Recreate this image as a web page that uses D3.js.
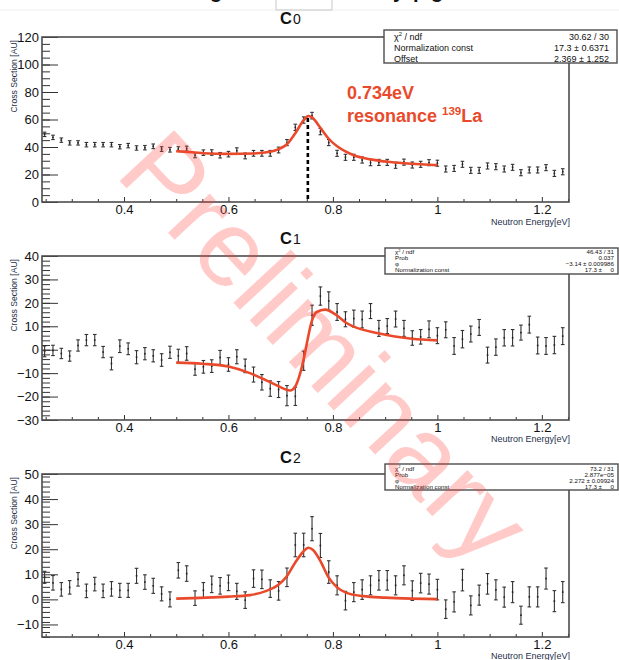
<!DOCTYPE html>
<html><head><meta charset="utf-8">
<script src="https://cdn.jsdelivr.net/npm/d3@7"></script>
<style>
body{margin:0;background:#fff}
svg{display:block;font-family:"Liberation Sans",Arial,Helvetica,sans-serif}
</style>
</head><body>
<svg id="chart" width="619" height="660"></svg>
<script>
// ---------------- data ----------------
const energies = [0.248,0.264,0.280,0.296,0.312,0.328,0.344,0.360,0.376,0.392,0.408,0.424,0.440,0.456,0.472,0.488,0.504,0.520,0.536,0.552,0.568,0.584,0.600,0.616,0.632,0.648,0.664,0.680,0.696,0.712,0.728,0.744,0.760,0.776,0.792,0.808,0.824,0.840,0.856,0.872,0.888,0.904,0.920,0.936,0.952,0.968,0.984,1.000,1.016,1.032,1.048,1.064,1.080,1.096,1.112,1.128,1.144,1.160,1.176,1.192,1.208,1.224,1.240];

const c0Values = [49.2,47,45,43,43,41.7,41.7,41.7,41.7,40.2,41,39.3,39.5,40.5,38.5,38,38.5,38.8,34,
  35.9,36,34,34.8,37.3,33.5,35.4,35.4,35.4,37.8,43.2,54.3,59.6,62.8,51.2,43.2,35.4,32.5,32.5,30.5,28.6,28.8,28.8,26.7,29,26.9,27.4,28.6,28.2,
  24,24.4,27.4,23,23,26.2,25.7,24,25.2,21.3,23.3,23.3,25,20.8,22];
const c0Errors = [1.6,1.6,1.6,1.6,1.6,1.6,1.6,1.6,1.6,1.6,1.6,1.6,1.6,1.7,1.7,1.7,1.7,1.8,1.8,
  2.0,2.0,2.0,2.0,2.1,2.1,2.1,2.1,2.1,2.1,2.2,2.3,2.3,2.4,2.3,2.2,2.2,2.2,2.2,2.2,2.2,2.2,2.2,2.2,2.2,2.2,2.2,2.2,2.2,
  2.2,2.2,2.2,2.2,2.2,2.2,2.2,2.2,2.2,2.2,2.2,2.2,2.2,2.2,2.2];

const c1Values = [-0.7,-0.3,-1.6,-2.7,1.8,4.1,4.1,-1.0,-5.9,1.5,0.4,-3.2,-1.7,-2.6,-4.4,-1.1,-2.6,-1.6,-8.3,-7.3,-7.0,-3.3,-6.3,-3.0,-6.9,
  -10.6,-13.9,-16.6,-17.0,-19.6,-19.9,-4.7,14.7,22.9,20.8,16.1,13.0,13.3,12.9,16.5,9.1,10.1,13.1,9.1,5.0,5.5,8.7,6.0,8.5,1.6,4.5,6.7,9.5,-2.3,1.1,5.1,5.1,7.3,10.7,1.8,1.6,2.0,5.8];
const c1Errors = [2.3,2.2,2.2,2.2,2.4,2.4,2.4,2.4,2.7,2.7,2.5,2.8,2.6,2.6,2.7,2.6,2.8,2.9,2.6,2.7,2.7,3.0,2.9,3.0,2.9,
  3.2,3.3,3.3,3.4,4.3,3.9,4.1,4.3,3.9,3.9,3.6,3.2,3.6,3.6,3.2,3.4,3.2,3.4,3.4,3.1,3.1,3.6,3.4,3.4,3.6,3.7,3.4,3.4,3.4,3.5,3.5,3.5,3.2,3.6,3.6,3.6,3.7,3.6];

const c2Values = [8.8,6.6,4.0,4.8,8.0,3.4,6.1,3.4,4.2,3.6,3.6,9.4,6.9,5.4,2.2,0,11.6,10.3,0.5,3.6,6.0,5.4,6.6,3.2,-0.3,
  8.3,8.0,4.3,3.4,8.8,21.7,21.7,28.2,21.5,10.9,5.6,-0.5,2.9,3.9,5.6,7.6,7.6,5.6,9.6,3.5,6.5,6.1,3.9,-3.9,-1.0,7.7,-2.4,1.7,6.2,3.8,0.9,2.9,-6.3,1.0,1.0,8.3,-0.7,2.9];
const c2Errors = [2.4,2.9,2.7,2.7,2.7,2.7,2.7,2.7,2.9,2.8,2.8,3.0,2.9,3.0,2.8,3.0,3.1,3.1,2.9,3.1,3.3,3.3,3.1,3.2,3.3,
  3.5,3.7,3.5,3.7,3.7,4.7,4.7,4.8,4.8,4.5,3.8,3.7,3.8,3.9,3.8,3.9,3.9,3.8,3.8,3.9,3.9,4.0,4.1,3.7,4.0,4.3,3.8,4.0,4.1,4.0,4.0,4.2,3.6,4.0,4.0,4.2,4.2,4.2];

const fit0Energy = [0.50,0.536,0.552,0.60,0.648,0.68,0.696,0.712,0.728,0.744,0.753,0.76,0.776,0.792,0.808,0.824,0.84,0.872,0.904,0.936,0.968,1.0];
const fit0Values = [37,36,35.5,35,35.3,36.5,38.5,42,50,59.5,62.5,61.5,54,46,40.5,36.8,34,31,29.3,28.2,27.4,26.8];
const fit1Energy = [0.50,0.55,0.60,0.641,0.67,0.695,0.718,0.727,0.737,0.745,0.750,0.759,0.769,0.785,0.807,0.826,0.887,0.951,1.0];
const fit1Values = [-5.5,-6.0,-7.2,-10.0,-12.8,-15.5,-17.4,-16.0,-10.3,-3.0,2.6,11.8,16.1,17.1,14.7,11.4,7.0,4.7,4.0];
const fit2Energy = [0.50,0.60,0.641,0.67,0.695,0.711,0.727,0.743,0.753,0.762,0.775,0.791,0.807,0.826,0.858,0.90,0.951,1.0];
const fit2Values = [0.3,1.1,1.7,3.2,5.7,9.0,14.4,19.0,20.6,19.7,15.7,9.0,5.0,2.6,1.3,0.7,0.3,0.1];

const resonanceEnergy = 0.752;

const xTicks = [0.4,0.6,0.8,1.0,1.2];
const xTickLabels = ["0.4","0.6","0.8","1","1.2"];
const xMinorTicks = [0.25,0.30,0.35,0.45,0.50,0.55,0.65,0.70,0.75,0.85,0.90,0.95,1.05,1.10,1.15,1.25];

const c0YTicks = [0,20,40,60,80,100,120];
const c0YTickLabels = ["0","20","40","60","80","100","120"];
const c1YTicks = [-30,-20,-10,0,10,20,30,40];
const c1YTickLabels = ["\u221230","\u221220","\u221210","0","10","20","30","40"];
const c2YTicks = [-10,0,10,20,30,40,50];
const c2YTickLabels = ["\u221210","0","10","20","30","40","50"];

const panelTitles = ["0","1","2"];
const stat0Names = ["chi2","Normalization const","Offset"];
const stat0Values = ["30.62 / 30","17.3 \u00b1 0.6371","2.369 \u00b1 1.252"];
const stat1Names = ["chi2","Prob","\u03c6","Normalization const"];
const stat1Values = ["46.43 / 31","0.037","\u22123.14 \u00b1 0.009986","17.3 \u00b1     0"];
const stat2Names = ["chi2","Prob","\u03c6","Normalization const"];
const stat2Values = ["73.2 / 31","2.877e\u221205","2.272 \u00b1 0.09924","17.3 \u00b1     0"];

// ---------------- drawing ----------------
const svg = d3.select("#chart");
const X0 = 42, X1 = 569;
const x = d3.scaleLinear().domain([0.243, 1.252]).range([X0, X1]);
const INK = "#333";
const FRAME = "#4d4d4d";
const RED = "#ea4a2c";
const NAVY = "#27304a";

// cut-off page title at very top (only descenders visible, as in the reference)
svg.append("line").attr("x1",0).attr("x2",619).attr("y1",10).attr("y2",10).attr("stroke","#f0f0f0");
svg.append("rect").attr("x",276).attr("y",-2).attr("width",56).attr("height",12).attr("fill","none").attr("stroke","#c8c8c8");
[["g",210],["y",393],["p",413],["g",431]].forEach(([t,px])=>{
  svg.append("text").attr("x",px).attr("y",-2).attr("font-size",20).attr("font-weight","bold").attr("fill","#111").text(t);
});

function drawPanel(p){
  const y = d3.scaleLinear().domain(p.yDomain).range([p.bottom, p.top]);
  const g = svg.append("g");

  const yMinor = d3.range(p.yDomain[0], p.yDomain[1]+1e-9, p.yMinorStep);
  g.append("g").attr("transform",`translate(${X0},0)`)
    .call(d3.axisLeft(y).tickValues(yMinor).tickSizeInner(-8).tickSizeOuter(0).tickFormat(""))
    .call(s=>s.select(".domain").remove())
    .call(s=>s.selectAll("line").attr("stroke",INK));
  g.append("g").attr("transform",`translate(${X0},0)`)
    .call(d3.axisLeft(y).tickValues(p.yTicks).tickSizeInner(-16).tickSizeOuter(0).tickPadding(3)
      .tickFormat((d,i)=>p.yTickLabels[i]))
    .call(s=>s.select(".domain").remove())
    .call(s=>s.selectAll("line").attr("stroke",INK))
    .call(s=>s.selectAll("text").attr("font-size",13).attr("fill","#111").attr("font-family","Liberation Sans, Arial, sans-serif"));
  g.append("g").attr("transform",`translate(0,${p.bottom})`)
    .call(d3.axisBottom(x).tickValues(xMinorTicks).tickSizeInner(-3).tickSizeOuter(0).tickFormat(""))
    .call(s=>s.select(".domain").remove())
    .call(s=>s.selectAll("line").attr("stroke",INK));
  g.append("g").attr("transform",`translate(0,${p.bottom})`)
    .call(d3.axisBottom(x).tickValues(xTicks).tickSizeInner(-5).tickSizeOuter(0).tickPadding(2.5)
      .tickFormat((d,i)=>xTickLabels[i]))
    .call(s=>s.select(".domain").remove())
    .call(s=>s.selectAll("line").attr("stroke",INK))
    .call(s=>s.selectAll("text").attr("font-size",13).attr("fill","#111").attr("font-family","Liberation Sans, Arial, sans-serif"));

  g.append("rect").attr("x",X0).attr("y",p.top).attr("width",X1-X0).attr("height",p.bottom-p.top)
    .attr("fill","none").attr("stroke",FRAME).attr("stroke-width",1.6);

  const pts = energies.map((e,i)=>({e, v:p.values[i], err:p.errors[i]}));
  const eb = g.append("g").attr("stroke",INK).attr("stroke-width",1.1).attr("fill","none");
  pts.forEach(d=>{
    const cx = x(d.e), y1 = y(d.v+d.err), y2 = y(d.v-d.err);
    eb.append("line").attr("x1",cx).attr("x2",cx).attr("y1",y1).attr("y2",y2);
    eb.append("line").attr("x1",cx-1.8).attr("x2",cx+1.8).attr("y1",y1).attr("y2",y1);
    eb.append("line").attr("x1",cx-1.8).attr("x2",cx+1.8).attr("y1",y2).attr("y2",y2);
  });
  g.append("g").selectAll("rect").data(pts).join("rect")
    .attr("x",d=>x(d.e)-0.8).attr("y",d=>y(d.v)-0.8).attr("width",1.6).attr("height",1.6).attr("fill","#222");

  const line = d3.line().x(d=>x(d[0])).y(d=>y(d[1])).curve(d3.curveMonotoneX);
  g.append("path").datum(p.fitE.map((e,i)=>[e,p.fitV[i]]))
    .attr("d",line).attr("fill","none").attr("stroke",RED).attr("stroke-width",2.6);

  g.append("text").attr("transform",`translate(17,${p.top+3}) rotate(-90)`).attr("text-anchor","end")
    .attr("font-size",8.6).attr("fill",NAVY).text("Cross Section [AU]");
  g.append("text").attr("x",X1+1).attr("y",p.xTitleY).attr("text-anchor","end")
    .attr("font-size",9).attr("fill",NAVY).text("Neutron Energy[eV]");

  const t = g.append("text").attr("x",280).attr("y",p.titleY).attr("fill","#111");
  t.append("tspan").attr("font-size",16.5).attr("font-weight","bold").text("C");
  t.append("tspan").attr("font-size",14).attr("dx",1).text(p.title);

  const sb = p.stat;
  g.append("rect").attr("x",sb.x).attr("y",sb.y).attr("width",sb.w).attr("height",sb.h)
    .attr("fill","#fff").attr("stroke",FRAME).attr("stroke-width",1.4);
  p.statNames.forEach((n,i)=>{
    const ty = sb.rows[i];
    const tl = g.append("text").attr("x",sb.x+sb.padL).attr("y",ty).attr("font-size",sb.fs).attr("fill","#111");
    if(n==="chi2"){
      tl.append("tspan").text("\u03c7");
      tl.append("tspan").attr("dy",-sb.fs*0.4).attr("font-size",sb.fs*0.65).text("2");
      tl.append("tspan").attr("dy",sb.fs*0.4).text(" / ndf");
    } else tl.text(n);
    g.append("text").attr("x",sb.x+sb.w-sb.padR).attr("y",ty).attr("text-anchor","end")
      .attr("font-size",sb.fs).attr("fill","#111").style("white-space","pre").text(p.statValues[i]);
  });
  return {g,y};
}

const panel0 = drawPanel({top:37,bottom:202,yDomain:[0,120],yMinorStep:5,yTicks:c0YTicks,yTickLabels:c0YTickLabels,
  values:c0Values,errors:c0Errors,fitE:fit0Energy,fitV:fit0Values,xTitleY:224.5,title:panelTitles[0],titleY:24,
  stat:{x:384,y:30,w:233,h:33,padL:10,padR:8,fs:9,rows:[40,51,61.5]},statNames:stat0Names,statValues:stat0Values});
const panel1 = drawPanel({top:256,bottom:420,yDomain:[-30,40],yMinorStep:2,yTicks:c1YTicks,yTickLabels:c1YTickLabels,
  values:c1Values,errors:c1Errors,fitE:fit1Energy,fitV:fit1Values,xTitleY:441.5,title:panelTitles[1],titleY:244,
  stat:{x:385,y:248,w:233,h:26,padL:10,padR:4,fs:6.2,rows:[254,260,266,272.3]},statNames:stat1Names,statValues:stat1Values});
const panel2 = drawPanel({top:474,bottom:637,yDomain:[-15,50],yMinorStep:2,yTicks:c2YTicks,yTickLabels:c2YTickLabels,
  values:c2Values,errors:c2Errors,fitE:fit2Energy,fitV:fit2Values,xTitleY:659,title:panelTitles[2],titleY:463,
  stat:{x:385,y:464,w:233,h:26,padL:10,padR:4,fs:6.2,rows:[470.5,476.5,482.5,488.5]},statNames:stat2Names,statValues:stat2Values});

// resonance marker in C0
const yTop0 = panel0.y(62.5)+2;
svg.append("line").attr("x1",x(resonanceEnergy)).attr("x2",x(resonanceEnergy))
  .attr("y1",yTop0).attr("y2",202).attr("stroke","#000").attr("stroke-width",2.6).attr("stroke-dasharray","4,3");
svg.append("text").attr("x",347).attr("y",99).attr("font-size",18).attr("font-weight","bold").attr("fill",RED).text("0.734eV");
const rl = svg.append("text").attr("x",347).attr("y",122).attr("font-size",18).attr("font-weight","bold").attr("fill",RED);
rl.append("tspan").text("resonance ");
rl.append("tspan").attr("font-size",11.5).attr("dy",-7).text("139");
rl.append("tspan").attr("dy",7).text("La");

// watermark, translucent
svg.append("text").attr("transform","translate(298,372) rotate(47)").attr("text-anchor","middle")
  .attr("font-size",108).attr("fill","#ff3a30").attr("fill-opacity",0.27).text("Preliminary");
</script>
</body></html>
